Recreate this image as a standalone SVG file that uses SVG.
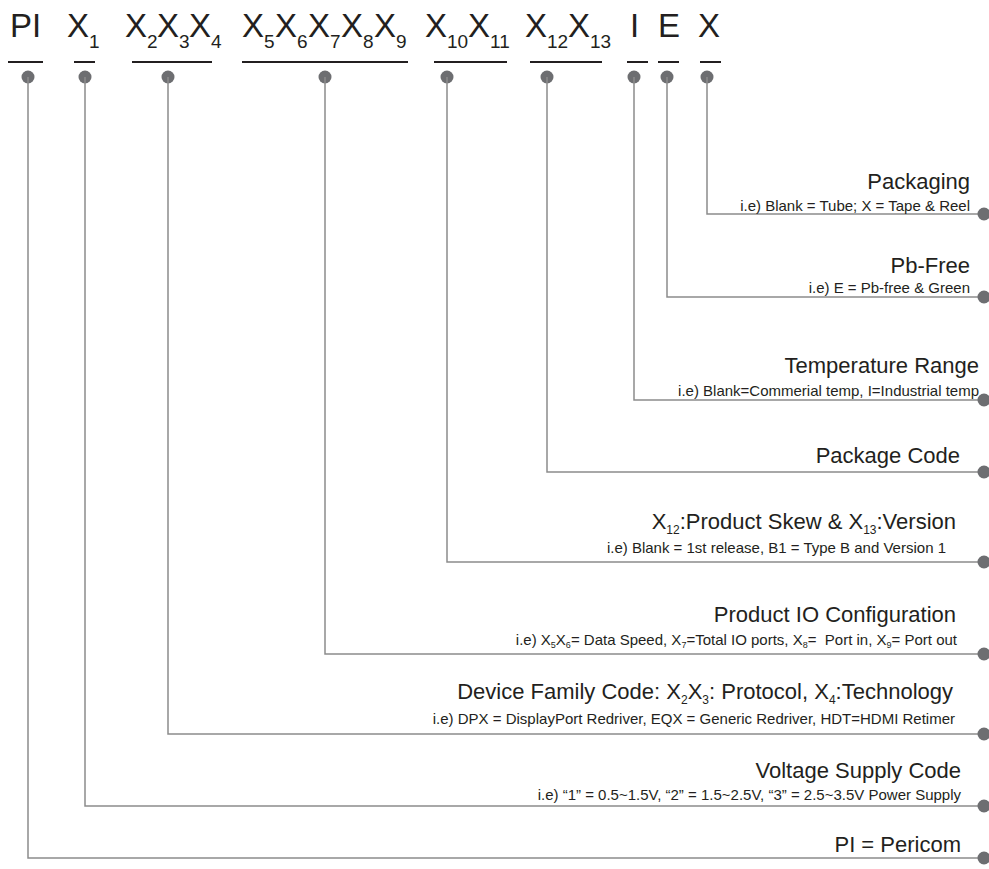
<svg xmlns="http://www.w3.org/2000/svg" width="989" height="869" viewBox="0 0 989 869">
<style>
text{font-family:"Liberation Sans",Arial,sans-serif;fill:#231f20}
.code{font-size:33px}
.s{font-size:19px}
.main{font-size:22px;text-anchor:end}
.sub{font-size:15px;text-anchor:end}
.ul{stroke:#231f20;stroke-width:2}
.dot{fill:#6d6e71}
.wire{fill:none;stroke:#8c8c8c;stroke-width:1.5}
</style>
<rect width="989" height="869" fill="#ffffff"/>
<g id="code-pi"><text class="code" x="10" y="37">PI</text><line class="ul" x1="8" y1="62" x2="43" y2="62"/><circle class="dot" cx="28" cy="77" r="6.5"/></g>
<g id="code-x1"><text class="code" x="67" y="37">X<tspan class="s" dy="11">1</tspan></text><line class="ul" x1="74" y1="62" x2="95" y2="62"/><circle class="dot" cx="85" cy="77" r="6.5"/></g>
<g id="code-x234"><text class="code" y="37"><tspan x="125">X</tspan><tspan class="s" x="147" dy="11">2</tspan><tspan x="157" dy="-11">X</tspan><tspan class="s" x="179" dy="11">3</tspan><tspan x="189" dy="-11">X</tspan><tspan class="s" x="211" dy="11">4</tspan></text><line class="ul" x1="132" y1="62" x2="212" y2="62"/><circle class="dot" cx="168" cy="77" r="6.5"/></g>
<g id="code-x56789"><text class="code" y="37"><tspan x="242">X</tspan><tspan class="s" x="264" dy="11">5</tspan><tspan x="275" dy="-11">X</tspan><tspan class="s" x="297" dy="11">6</tspan><tspan x="308" dy="-11">X</tspan><tspan class="s" x="330" dy="11">7</tspan><tspan x="341" dy="-11">X</tspan><tspan class="s" x="363" dy="11">8</tspan><tspan x="374" dy="-11">X</tspan><tspan class="s" x="396" dy="11">9</tspan></text><line class="ul" x1="242" y1="62" x2="408" y2="62"/><circle class="dot" cx="325" cy="77" r="6.5"/></g>
<g id="code-x1011"><text class="code" y="37"><tspan x="425">X</tspan><tspan class="s" x="447" dy="11">10</tspan><tspan x="468" dy="-11">X</tspan><tspan class="s" x="490" dy="11">11</tspan></text><line class="ul" x1="434" y1="62" x2="507" y2="62"/><circle class="dot" cx="447" cy="77" r="6.5"/></g>
<g id="code-x1213"><text class="code" y="37"><tspan x="525">X</tspan><tspan class="s" x="547" dy="11">12</tspan><tspan x="568" dy="-11">X</tspan><tspan class="s" x="590" dy="11">13</tspan></text><line class="ul" x1="530" y1="62" x2="602" y2="62"/><circle class="dot" cx="547" cy="77" r="6.5"/></g>
<g id="code-i"><text class="code" x="630" y="37">I</text><line class="ul" x1="627" y1="62" x2="648" y2="62"/><circle class="dot" cx="634" cy="77" r="6.5"/></g>
<g id="code-e"><text class="code" x="658" y="37">E</text><line class="ul" x1="658" y1="62" x2="679" y2="62"/><circle class="dot" cx="667" cy="77" r="6.5"/></g>
<g id="code-x"><text class="code" x="698" y="37">X</text><line class="ul" x1="700" y1="62" x2="721" y2="62"/><circle class="dot" cx="707" cy="77" r="6.5"/></g>

<g id="connectors">
<polyline class="wire" points="707,77 707,214 984,214"/>
<polyline class="wire" points="667,77 667,297 984,297"/>
<polyline class="wire" points="634,77 634,400 984,400"/>
<polyline class="wire" points="547,77 547,472 984,472"/>
<polyline class="wire" points="447,77 447,562 984,562"/>
<polyline class="wire" points="325,77 325,654 984,654"/>
<polyline class="wire" points="168,77 168,734 984,734"/>
<polyline class="wire" points="85,77 85,806 984,806"/>
<polyline class="wire" points="28,77 28,858 984,858"/>
</g>

<g id="packaging"><text class="main" x="970" y="189">Packaging</text><text class="sub" x="970" y="211">i.e) Blank = Tube; X = Tape &amp; Reel</text><circle class="dot" cx="984" cy="214" r="6.5"/></g>
<g id="pbfree"><text class="main" x="970" y="273">Pb-Free</text><text class="sub" x="970" y="293">i.e) E = Pb-free &amp; Green</text><circle class="dot" cx="984" cy="297" r="6.5"/></g>
<g id="temperature"><text class="main" x="979" y="373">Temperature Range</text><text class="sub" x="979" y="396">i.e) Blank=Commerial temp, I=Industrial temp</text><circle class="dot" cx="984" cy="400" r="6.5"/></g>
<g id="package-code"><text class="main" x="960" y="463">Package Code</text><circle class="dot" cx="984" cy="472" r="6.5"/></g>
<g id="skew"><text class="main" x="956" y="529">X<tspan font-size="12" dy="5">12</tspan><tspan dy="-5">:Product Skew &amp; X</tspan><tspan font-size="12" dy="5">13</tspan><tspan dy="-5">:Version</tspan></text><text class="sub" x="946" y="553">i.e) Blank = 1st release, B1 = Type B and Version 1</text><circle class="dot" cx="984" cy="562" r="6.5"/></g>
<g id="io"><text class="main" x="956" y="622">Product IO Configuration</text><text class="sub" x="957" y="645">i.e) X<tspan font-size="9" dy="3">5</tspan><tspan dy="-3">X</tspan><tspan font-size="9" dy="3">6</tspan><tspan dy="-3">= Data Speed, X</tspan><tspan font-size="9" dy="3">7</tspan><tspan dy="-3">=Total IO ports, X</tspan><tspan font-size="9" dy="3">8</tspan><tspan dy="-3" xml:space="preserve">=  Port in, X</tspan><tspan font-size="9" dy="3">9</tspan><tspan dy="-3">= Port out</tspan></text><circle class="dot" cx="984" cy="654" r="6.5"/></g>
<g id="device"><text class="main" x="953" y="699">Device Family Code: X<tspan font-size="12" dy="5">2</tspan><tspan dy="-5">X</tspan><tspan font-size="12" dy="5">3</tspan><tspan dy="-5">: Protocol, X</tspan><tspan font-size="12" dy="5">4</tspan><tspan dy="-5">:Technology</tspan></text><text class="sub" x="955" y="724">i.e) DPX = DisplayPort Redriver, EQX = Generic Redriver, HDT=HDMI Retimer</text><circle class="dot" cx="984" cy="734" r="6.5"/></g>
<g id="voltage"><text class="main" x="961" y="778">Voltage Supply Code</text><text class="sub" x="961" y="800">i.e) “1” = 0.5~1.5V, “2” = 1.5~2.5V, “3” = 2.5~3.5V Power Supply</text><circle class="dot" cx="984" cy="806" r="6.5"/></g>
<g id="pericom"><text class="main" x="961" y="852">PI = Pericom</text><circle class="dot" cx="984" cy="858" r="6.5"/></g>
</svg>
